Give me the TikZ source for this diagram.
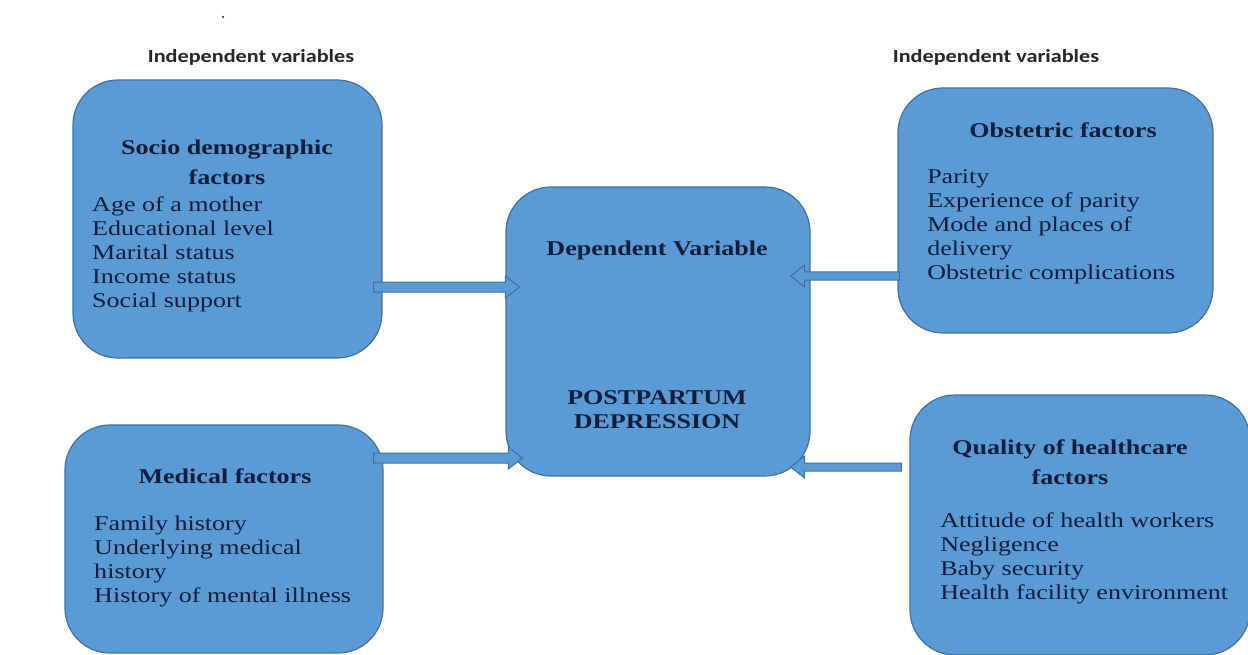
\documentclass[tikz,border=0pt]{standalone}
\usepackage{fontspec}
\setmainfont{Liberation Serif}
\newfontfamily\hdfont{Carlito}
\usetikzlibrary{calc}
\definecolor{boxfill}{HTML}{5B9BD5}
\definecolor{boxline}{HTML}{41719C}
\definecolor{txt}{HTML}{0F1E3A}
\newcommand{\rblockarrow}[2]{\draw[barrow] let \p1=(#1), \p2=(#2) in
  (\x1,\y1+5pt) -- (\x2-14pt,\y1+5pt) -- (\x2-14pt,\y1+11pt) -- (\x2,\y1) --
  (\x2-14pt,\y1-11pt) -- (\x2-14pt,\y1-5pt) -- (\x1,\y1-5pt) -- cycle;}
\newcommand{\lblockarrow}[2]{\draw[barrow] let \p1=(#1), \p2=(#2) in
  (\x1,\y1+4pt) -- (\x2+14pt,\y1+4pt) -- (\x2+14pt,\y1+11pt) -- (\x2,\y1) --
  (\x2+14pt,\y1-11pt) -- (\x2+14pt,\y1-4pt) -- (\x1,\y1-4pt) -- cycle;}
\begin{document}
\begin{tikzpicture}[x=1pt,y=-1pt,
  box/.style={draw=boxline, fill=boxfill, line width=1.2pt, rounded corners=45pt, inner sep=0pt},
  ttl/.style={font=\fontsize{21}{30}\selectfont\bfseries, text=txt, align=center, xscale=1.24, inner sep=0pt},
  items/.style={font=\fontsize{21}{24}\selectfont, text=txt, align=left, xscale=1.24, inner sep=0pt, anchor=west},
  hdr/.style={font=\hdfont\fontsize{18.5}{20}\selectfont\bfseries, xscale=1.2, inner sep=0pt, text=black!85},
  barrow/.style={draw=boxline, fill=boxfill, line width=1pt, line join=miter}]
\useasboundingbox (0,0) rectangle (1248,655);
\begin{scope}
\clip (0,0) rectangle (1248,655);
% boxes
\node[box, minimum width=309pt, minimum height=278pt] (socio) at (227.5,219) {};
\node[box, minimum width=318pt, minimum height=228pt] (medical) at (224,539) {};
\node[box, minimum width=304pt, minimum height=289pt] (center) at (658,331.5) {};
\node[box, minimum width=315pt, minimum height=245pt] (obst) at (1055.5,210.5) {};
\node[box, minimum width=340pt, minimum height=260pt] (qual) at (1080,525) {};
% texts
\node[ttl] (sociot) at (227,162) {Socio demographic\\factors};
\node[items] (socioi) at (92,254) {Age of a mother\\Educational level\\Marital status\\Income status\\Social support};
\node[ttl] (medt) at (225,476) {Medical factors};
\node[items] (medi) at (94,561) {Family history\\Underlying medical\\history\\History of mental illness};
\node[ttl] (centt) at (657,250) {Dependent Variable};
\node[ttl, font=\fontsize{21}{24}\selectfont\bfseries] (centd) at (657,410) {POSTPARTUM\\DEPRESSION};
\node[ttl] (obstt) at (1063,130) {Obstetric factors};
\node[items] (obsti) at (927,227) {Parity\\Experience of parity\\Mode and places of\\delivery\\Obstetric complications};
\node[ttl] (qualt) at (1070,462) {Quality of healthcare\\factors};
\node[items] (quali) at (940,558) {Attitude of health workers\\Negligence\\Baby security\\Health facility environment};
% arrows
\coordinate (a1s) at ([shift={(-9,68)}]socio.east);
\coordinate (a1e) at ($(center.west |- a1s)+(14,0)$);
\rblockarrow{a1s}{a1e}
\coordinate (a3s) at ([shift={(-10,-81)}]medical.east);
\coordinate (a3e) at ($(center.west |- a3s)+(17,0)$);
\rblockarrow{a3s}{a3e}
\coordinate (a2s) at ([shift={(2,65.5)}]obst.west);
\coordinate (a2e) at ($(center.east |- a2s)+(-20,0)$);
\lblockarrow{a2s}{a2e}
\coordinate (a4s) at ([shift={(-8,-58)}]qual.west);
\coordinate (a4e) at ($(center.east |- a4s)+(-20,0)$);
\lblockarrow{a4s}{a4e}
% headers
\node[hdr] (hl) at (251,57) {Independent variables};
\node[hdr] (hr) at (996,57) {Independent variables};
\node[circle, fill=black!75, inner sep=0pt, minimum size=2.5pt] (dot) at (223,17) {};
\end{scope}
\end{tikzpicture}
\end{document}
